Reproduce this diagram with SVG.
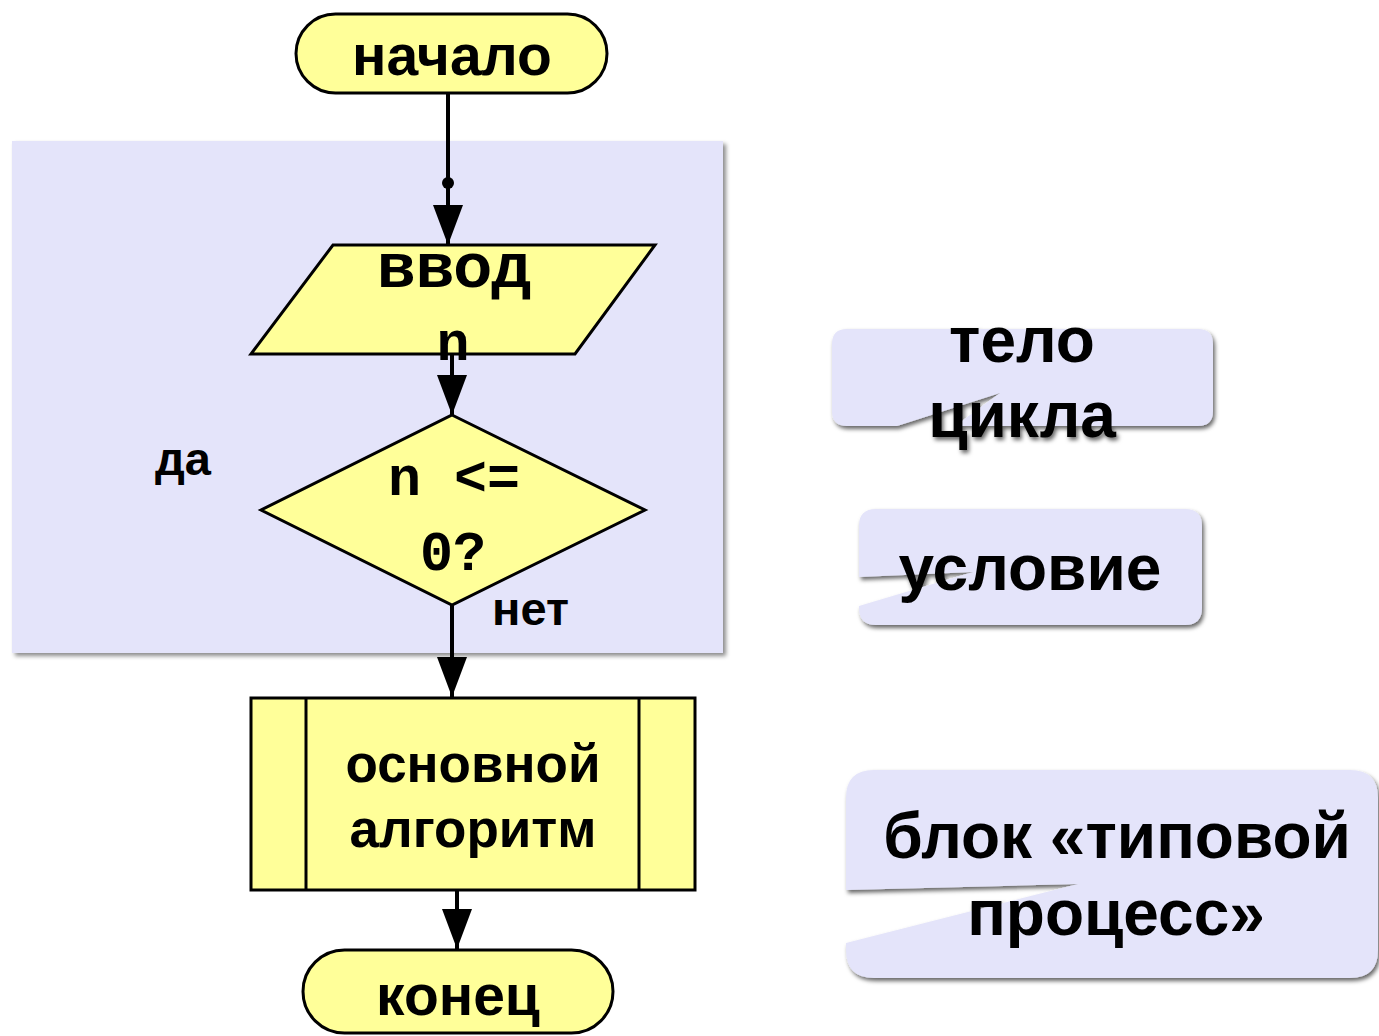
<svg xmlns="http://www.w3.org/2000/svg" width="1379" height="1036" viewBox="0 0 1379 1036">
<defs>
<filter id="shBg" x="-5%" y="-5%" width="110%" height="110%"><feDropShadow dx="3" dy="3" stdDeviation="2" flood-color="#000" flood-opacity="0.45"/></filter>
<filter id="shCo" x="-10%" y="-10%" width="120%" height="130%"><feDropShadow dx="2" dy="3" stdDeviation="2" flood-color="#000" flood-opacity="0.6"/></filter>
<marker id="ah" markerUnits="userSpaceOnUse" markerWidth="40" markerHeight="30" refX="40" refY="15" orient="auto" viewBox="0 0 40 30"><path d="M0,0 L40,15 L0,30 Z" fill="#000"/></marker>
</defs>
<style>
.blk{fill:#FFFF99;stroke:#000;stroke-width:3}
.lav{fill:#E4E4FA}
.t{font-family:"Liberation Sans",Arial,sans-serif;font-weight:bold;fill:#000;text-anchor:middle}
.m{font-family:"Liberation Mono","Courier New",monospace;font-weight:bold;fill:#000;text-anchor:middle}
.c{fill:none;stroke:#000;stroke-width:4}
</style>
<rect id="loop-area" class="lav" x="12" y="141" width="711" height="512" filter="url(#shBg)"/>
<g id="start"><rect class="blk" x="296" y="14" width="311" height="79" rx="39.5"/><text class="t" x="452" y="75" font-size="57">начало</text></g>
<g id="input"><polygon class="blk" points="333,245 655,245 575,354 251,354"/><text class="t" x="454" y="287" font-size="63">ввод</text><text class="m" x="453" y="360" font-size="55">n</text></g>
<g id="cond"><polygon class="blk" points="452,415 645,510 452,605 261,510"/><text class="m" x="454" y="495" font-size="55">n &lt;=</text><text class="m" x="453" y="570" font-size="55">0?</text></g>
<g id="lbl-yes"><text class="t" x="155" y="475" font-size="47" style="text-anchor:start">да</text></g>
<g id="lbl-no"><text class="t" x="492" y="625" font-size="47" style="text-anchor:start">нет</text></g>
<g id="process"><rect class="blk" x="251" y="698" width="444" height="192"/><line class="blk" x1="306" y1="698" x2="306" y2="890"/><line class="blk" x1="639" y1="698" x2="639" y2="890"/><text class="t" x="473" y="782" font-size="53">основной</text><text class="t" x="473" y="847" font-size="53">алгоритм</text></g>
<g id="end"><rect class="blk" x="303" y="950" width="310" height="83" rx="41.5"/><text class="t" x="458" y="1015" font-size="57">конец</text></g>
<g id="connectors">
<line class="c" x1="448" y1="93" x2="448" y2="245" marker-end="url(#ah)"/>
<circle cx="448" cy="183" r="6" fill="#000"/>
<line class="c" x1="452" y1="354" x2="452" y2="415" marker-end="url(#ah)"/>
<line class="c" x1="452" y1="605" x2="452" y2="697" marker-end="url(#ah)"/>
<line class="c" x1="457" y1="890" x2="457" y2="949" marker-end="url(#ah)"/>
</g>
<g id="callout-body" filter="url(#shCo)"><path class="lav" d="M847,329 H1198 Q1213,329 1213,344 V411 Q1213,426 1198,426 H955 L1000,393 L897,426 H847 Q832,426 832,411 V344 Q832,329 847,329 Z"/><text class="t" x="1022" y="362" font-size="64">тело</text><text class="t" x="1022" y="437" font-size="64">цикла</text></g>
<g id="callout-cond" filter="url(#shCo)"><path class="lav" d="M876,509 H1185 Q1202,509 1202,526 V608 Q1202,625 1185,625 H876 Q859,625 859,608 V606 L973,572 L859,577 V526 Q859,509 876,509 Z"/><text class="t" x="1030" y="590" font-size="64">условие</text></g>
<g id="callout-proc" filter="url(#shCo)"><path class="lav" d="M874,770 H1350 Q1378,770 1378,798 V950 Q1378,978 1350,978 H874 Q846,978 846,950 V943 L1078,884 L846,890 V798 Q846,770 874,770 Z"/><text class="t" x="1117" y="858" font-size="64">блок «типовой</text><text class="t" x="1116" y="935" font-size="64">процесс»</text></g>
</svg>
